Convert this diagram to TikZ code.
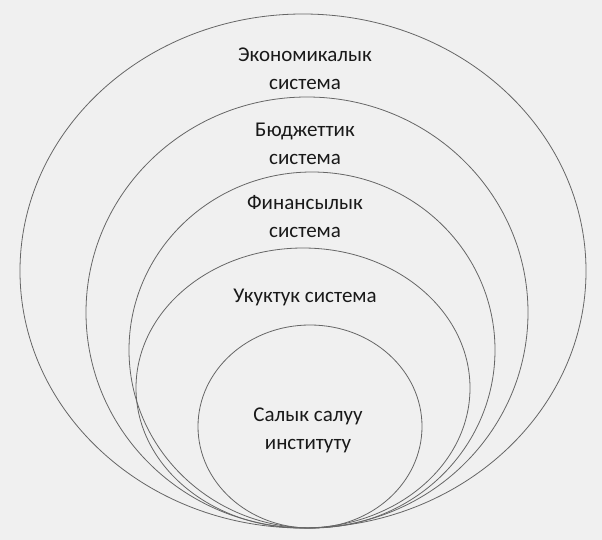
\documentclass[tikz,border=0pt]{standalone}
\usepackage{fontspec}
\setmainfont{Carlito}
\begin{document}
\begin{tikzpicture}[x=1pt,y=-1pt,
  ring/.style={draw=black!60,line width=0.8pt},
  lbl/.style={font=\fontsize{21}{28}\selectfont,align=center,text=black!90,inner sep=0pt}]
\useasboundingbox[fill=black!6] (0,0) rectangle (602,540);
% rings, all tangent at the bottom (y=528)
\draw[ring] (303,271) ellipse [x radius=283, y radius=257];
\draw[ring] (307,312.5) ellipse [x radius=221, y radius=215.5];
\draw[ring] (312,350) ellipse [x radius=183, y radius=178];
\draw[ring] (303,388) ellipse [x radius=167, y radius=140];
\draw[ring] (310,426.5) ellipse [x radius=112, y radius=101.5];
% labels
\node[lbl] (econ) at (305,69) {Экономикалык\\система};
\node[lbl] (budg) at (305,144) {Бюджеттик\\система};
\node[lbl] (fin) at (305,217) {Финансылык\\система};
\node[lbl] (law) at (305,297) {Укуктук система};
\node[lbl] (tax) at (308,430) {Салык салуу\\институту};
\end{tikzpicture}
\end{document}
